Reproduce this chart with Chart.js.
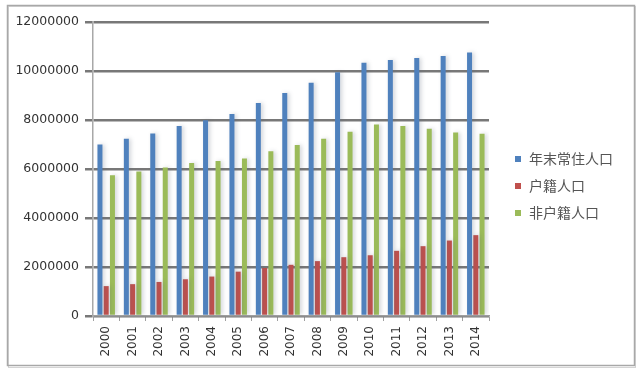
<!DOCTYPE html>
<html>
<head>
<meta charset="utf-8">
<script src="https://cdn.jsdelivr.net/npm/chart.js@4/dist/chart.umd.min.js"></script>
<style>
  html, body { margin: 0; padding: 0; background: #ffffff; }
</style>
</head>
<body>
<canvas id="c" width="640" height="372"></canvas>
<script>
const years = ['2000','2001','2002','2003','2004','2005','2006','2007','2008','2009','2010','2011','2012','2013','2014'];
const seriesNames = ['年末常住人口', '户籍人口', '非户籍人口'];
const residentPop = [7000000, 7230000, 7450000, 7760000, 7990000, 8250000, 8690000, 9100000, 9520000, 9950000, 10340000, 10450000, 10530000, 10610000, 10760000];
const registeredPop = [1220000, 1300000, 1390000, 1500000, 1610000, 1810000, 1960000, 2090000, 2240000, 2400000, 2480000, 2660000, 2850000, 3080000, 3300000];
const nonRegisteredPop = [5750000, 5900000, 6060000, 6240000, 6330000, 6430000, 6720000, 6980000, 7230000, 7520000, 7820000, 7760000, 7640000, 7490000, 7440000];
const yMax = 12000000;
const yStep = 2000000;
const colors = ['#4F81BD', '#C0504D', '#9BBB59'];

const frame = {
  id: 'frame',
  beforeDraw(chart) {
    const ctx = chart.ctx;
    ctx.save();
    ctx.fillStyle = '#ffffff';
    ctx.fillRect(0, 0, chart.width, chart.height);
    ctx.strokeStyle = '#d4d4d4';
    ctx.lineWidth = 1;
    ctx.strokeRect(8.5, 6.5, 627, 361);
    ctx.strokeStyle = '#a8a8a8';
    ctx.lineWidth = 1.5;
    ctx.strokeRect(7.5, 5.5, 627, 360);
    ctx.restore();
  }
};

const barShadow = {
  id: 'barShadow',
  beforeDatasetsDraw(chart) {
    const ctx = chart.ctx;
    ctx.save();
    ctx.shadowColor = 'rgba(90,100,120,0.28)';
    ctx.shadowBlur = 4;
    ctx.shadowOffsetX = 2;
  },
  afterDatasetsDraw(chart) {
    chart.ctx.restore();
  }
};

const sideLegend = {
  id: 'sideLegend',
  afterDraw(chart) {
    const ctx = chart.ctx;
    const x0 = chart.chartArea.right + 26;
    const yc = 186, step = 27;
    const ds = chart.data.datasets;
    ctx.save();
    ctx.font = '14px "Noto Sans CJK SC", sans-serif';
    ctx.textBaseline = 'middle';
    ctx.textAlign = 'left';
    ds.forEach((d, i) => {
      const y = yc + (i - (ds.length - 1) / 2) * step;
      ctx.fillStyle = d.backgroundColor;
      ctx.fillRect(x0, y - 3, 6, 6);
      ctx.fillStyle = '#555555';
      ctx.fillText(d.label, x0 + 14, y);
    });
    ctx.restore();
  }
};

new Chart(document.getElementById('c'), {
  type: 'bar',
  data: {
    labels: years,
    datasets: [
      { label: seriesNames[0], data: residentPop, backgroundColor: colors[0] },
      { label: seriesNames[1], data: registeredPop, backgroundColor: colors[1] },
      { label: seriesNames[2], data: nonRegisteredPop, backgroundColor: colors[2] }
    ]
  },
  options: {
    responsive: false,
    animation: false,
    devicePixelRatio: 1,
    categoryPercentage: 0.71,
    barPercentage: 0.8,
    layout: { padding: { top: 22, bottom: 13, left: 0, right: 151 } },
    plugins: { legend: { display: false }, tooltip: { enabled: false } },
    scales: {
      x: {
        grid: { drawOnChartArea: false, tickLength: 5, color: '#a0a0a0' },
        border: { color: '#a0a0a0', width: 1.5 },
        ticks: { maxRotation: 90, minRotation: 90, padding: 5, autoSkip: false, color: '#333333',
          font: { family: '"DejaVu Sans", sans-serif', size: 12 } },
        afterFit(s) { s.height = 43; }
      },
      y: {
        min: 0,
        max: yMax,
        grid: { color: 'rgb(120,120,120)', lineWidth: 2.5 },
        border: { color: '#a8a8a8', width: 1.5 },
        ticks: { stepSize: yStep, padding: 6, color: '#333333',
          font: { family: '"DejaVu Sans", sans-serif', size: 12.5 },
          callback: v => String(v) },
        afterFit(s) { s.width = 93; }
      }
    }
  },
  plugins: [frame, barShadow, sideLegend]
});
</script>
</body>
</html>
